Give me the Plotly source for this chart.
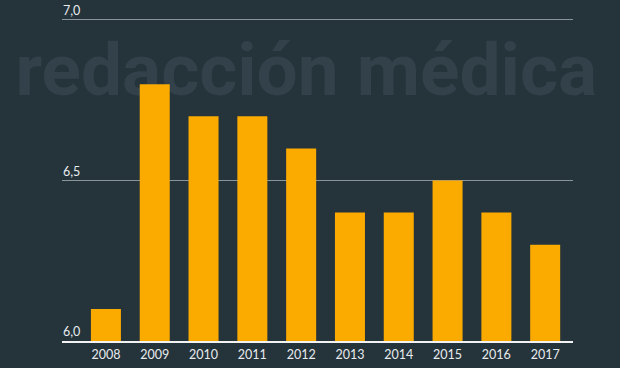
import plotly.graph_objects as go

years = [2008, 2009, 2010, 2011, 2012, 2013, 2014, 2015, 2016, 2017]
year_labels = [str(y) for y in years]
values = [6.1, 6.8, 6.7, 6.7, 6.6, 6.4, 6.4, 6.5, 6.4, 6.3]
y_ticks = [6.0, 6.5, 7.0]
y_tick_labels = ["6,0", "6,5", "7,0"]
watermark = "redacción médica"

BG = "#25333b"
BAR = "#fbaa00"
TXT = "#e8ecee"

fig = go.Figure(
    go.Bar(
        x=years,
        y=values,
        width=0.615,
        marker=dict(color=BAR, line=dict(width=0)),
        hoverinfo="skip",
    )
)

annotations = [
    dict(
        xref="paper", yref="y", x=0, y=v, text=t,
        xanchor="left", yanchor="bottom", xshift=-1, yshift=0,
        showarrow=False, font=dict(family="Lato", size=12.5, color=TXT),
    )
    for v, t in zip(y_ticks, y_tick_labels)
]

fig.update_layout(
    width=620,
    height=368,
    margin=dict(l=62, r=47, t=18, b=27),
    paper_bgcolor=BG,
    plot_bgcolor="rgba(0,0,0,0)",
    showlegend=False,
    font=dict(family="Lato", size=12.5, color=TXT),
    xaxis=dict(
        range=[2007.10, 2017.57],
        tickmode="array",
        tickvals=years,
        ticktext=year_labels,
        showgrid=False,
        zeroline=False,
        showline=True,
        linecolor="#f2f2f2",
        linewidth=2,
        ticks="",
        ticklabelstandoff=1,
        automargin=False,
        fixedrange=True,
    ),
    yaxis=dict(
        range=[6.0, 7.0062],
        tickmode="array",
        tickvals=y_ticks,
        showticklabels=False,
        showgrid=True,
        gridcolor="#8a959a",
        gridwidth=1,
        zeroline=False,
        showline=False,
        ticks="",
        automargin=False,
        fixedrange=True,
    ),
    annotations=annotations,
    shapes=[
        dict(
            type="rect",
            xref="paper",
            yref="paper",
            x0=0.398,
            x1=0.558,
            y0=0.791,
            y1=0.917,
            line=dict(width=0),
            fillcolor="rgba(0,0,0,0)",
            layer="below",
            label=dict(
                text=watermark,
                textposition="middle center",
                font=dict(family="Roboto", size=73, color="#32414a", weight=700),
            ),
        )
    ],
)

fig.write_html(
    "out.html",
    config={"displayModeBar": False},
    post_script="document.body.style.margin='0';document.body.style.padding='0';",
)
